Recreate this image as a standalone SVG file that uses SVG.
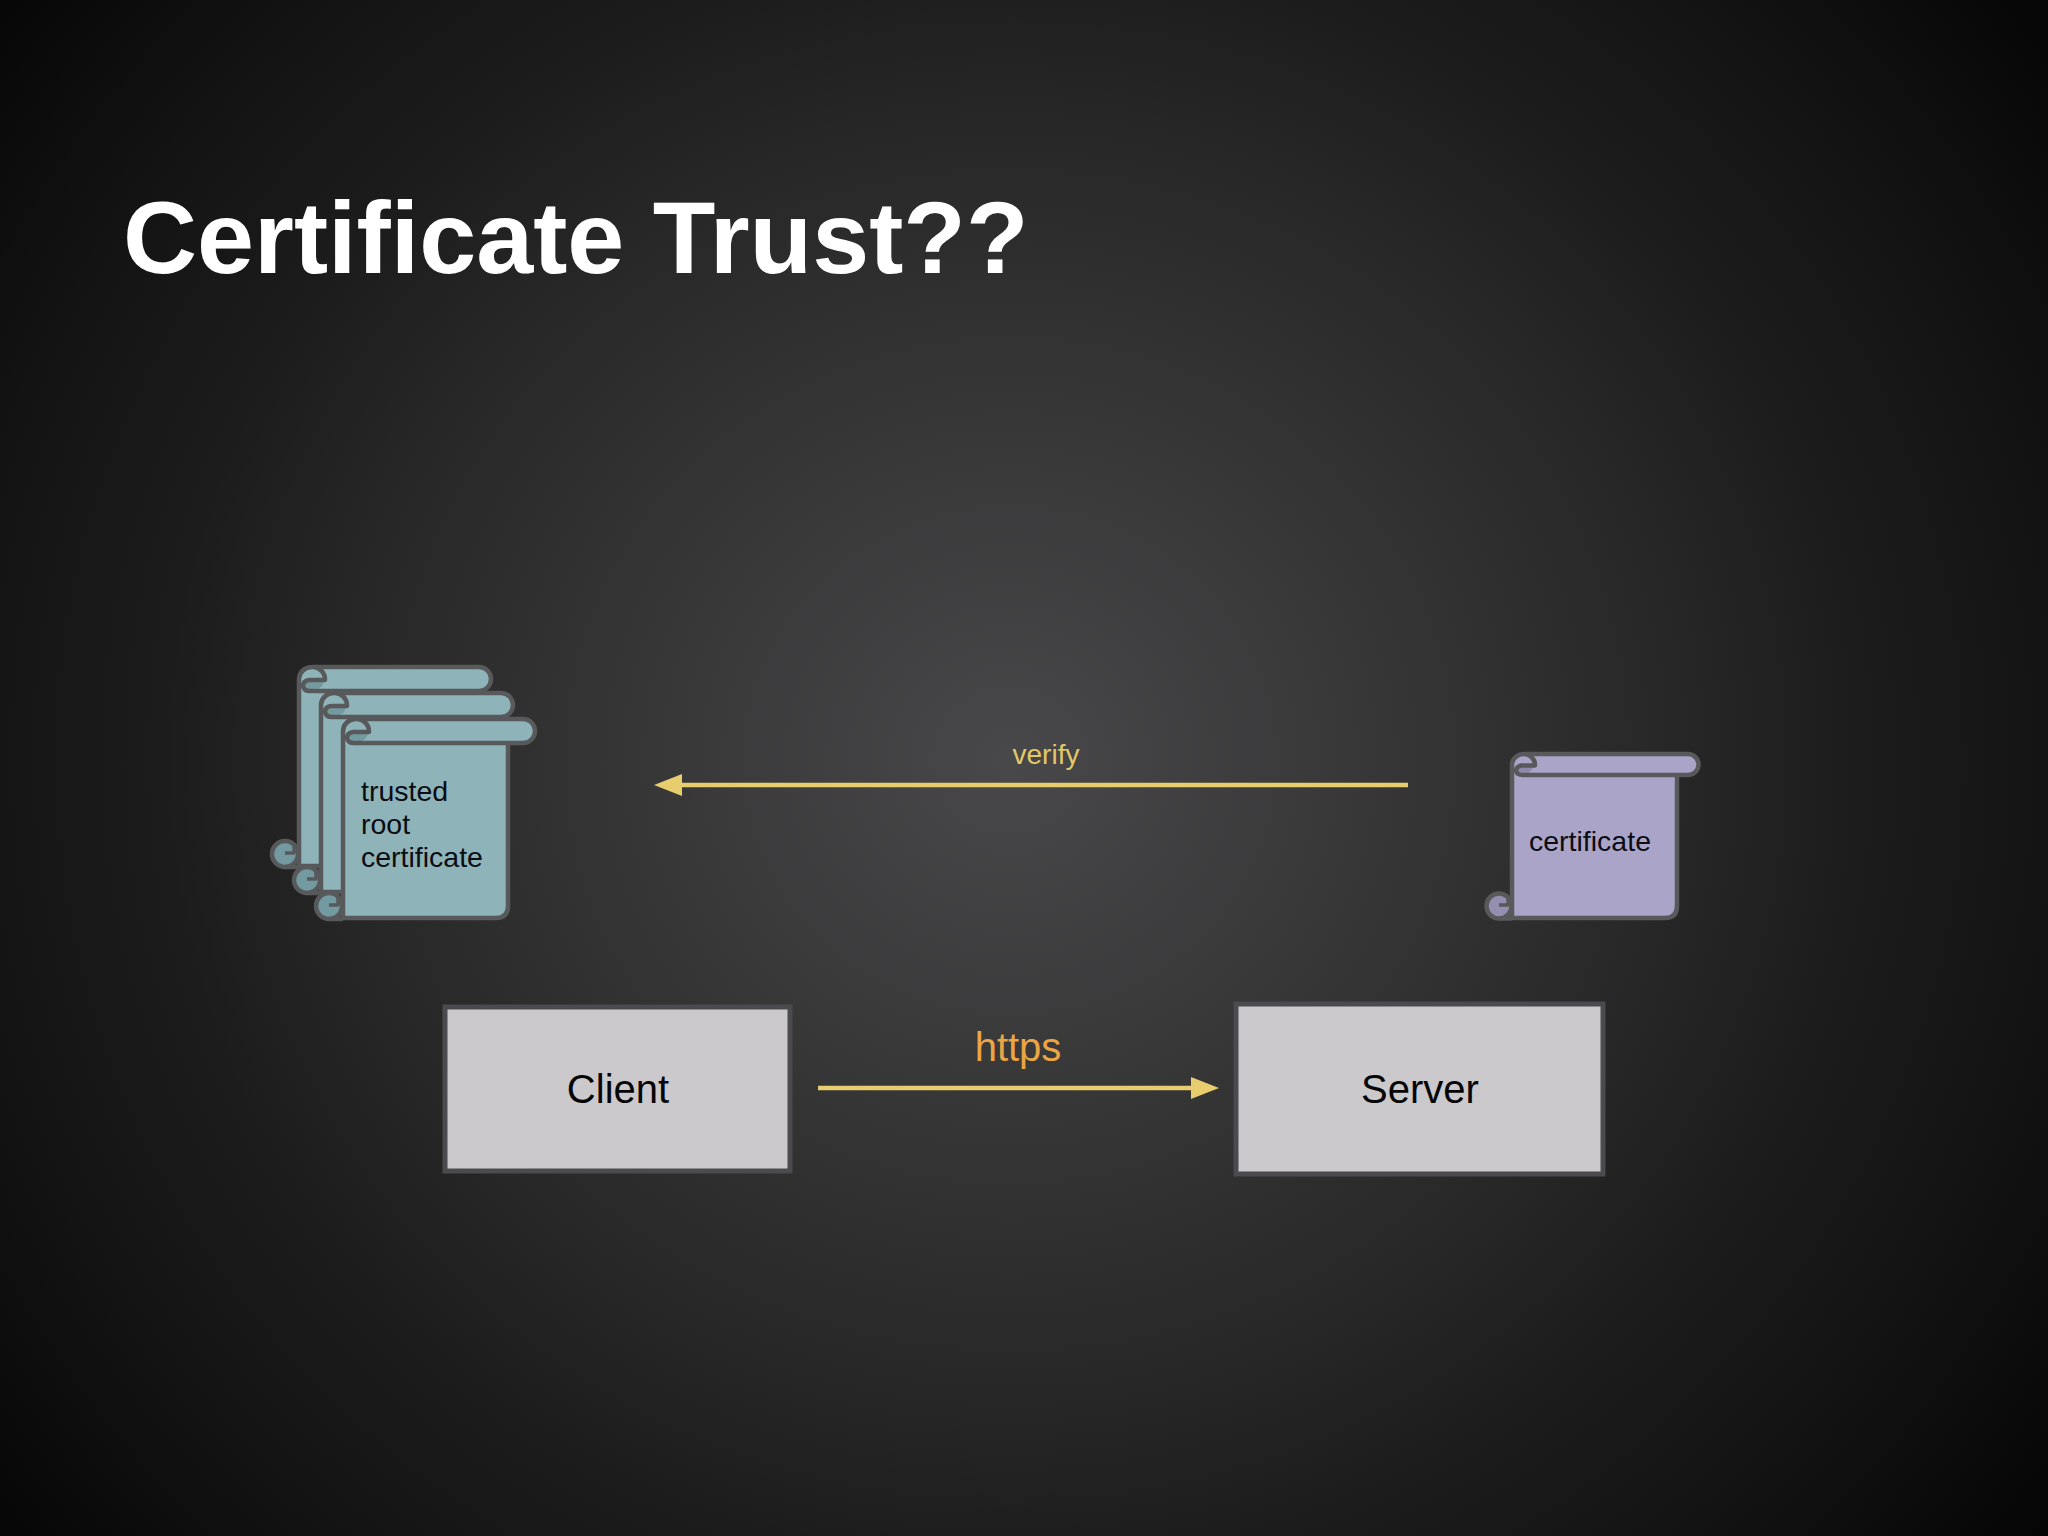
<svg xmlns="http://www.w3.org/2000/svg" xmlns:xlink="http://www.w3.org/1999/xlink" width="2048" height="1536" viewBox="0 0 2048 1536">
<defs>
<radialGradient id="bg" gradientUnits="userSpaceOnUse" cx="0" cy="0" r="1" gradientTransform="translate(1010 760) scale(1365 1300)">
<stop offset="0" stop-color="#484749"/>
<stop offset="0.23" stop-color="#39393a"/>
<stop offset="0.5" stop-color="#262626"/>
<stop offset="0.62" stop-color="#1c1c1c"/>
<stop offset="0.77" stop-color="#131313"/>
<stop offset="0.96" stop-color="#050505"/>
</radialGradient>
<marker id="ah" markerUnits="userSpaceOnUse" markerWidth="28" markerHeight="22" refX="2" refY="11" orient="auto">
<path d="M0 0L28 11L0 22Z" fill="#e8cd6e"/>
</marker>
<g id="scrollTrust">
<path class="sheet" d="M0 12A13 12 0 0 1 13 0H180A12 12 0 0 1 180 24H165V187Q165 199 153 199H0Z"/>
<circle cx="-14" cy="187" r="13" fill="#729aa0" class="line fillOn"/>
<path d="M5 20Q6 15 11 15H25Q22 23 12 24Q7 24 5 20Z" fill="#729aa0"/>
<path class="line" d="M0 12V199H153Q165 199 165 187V24M-14 200H0"/>
<path class="line thin" d="M-5 176V186H-14"/>
<path class="line" d="M0 12A13 12 0 0 1 13 0H180A12 12 0 0 1 180 24H11Q5 24 4 19Q4 14 10 13H26A12.500 12.500 0 0 0 13 0"/>
</g>
</defs>
<style>
text{font-family:"Liberation Sans",Arial,sans-serif}
.sheet{stroke:none}
.line{fill:none;stroke:#57595b;stroke-width:4.5;stroke-linejoin:round}
circle.fillOn{fill:#729aa0}
#node-certificate circle.fillOn{fill:#948eb0}
.thin{stroke-width:3.500}
.box{fill:#cbc9cc;stroke:#4b4a4e;stroke-width:5}
.lbl{font-size:28.500px;fill:#0b0d12}
.big{font-size:40px;fill:#050505;text-anchor:middle}
.conn{stroke:#e8cd6e;stroke-width:4.500;fill:none}
</style>
<rect width="2048" height="1536" fill="url(#bg)"/>
<text id="title" x="123" y="273" font-size="102.500" font-weight="700" fill="#ffffff">Certificate Trust??</text>
<g id="node-root-certs" fill="#8eb3b8">
<use xlink:href="#scrollTrust" href="#scrollTrust" x="299" y="667"/>
<use xlink:href="#scrollTrust" href="#scrollTrust" x="321" y="693"/>
<use xlink:href="#scrollTrust" href="#scrollTrust" x="343" y="719"/>
<text class="lbl" x="361" y="801">trusted</text>
<text class="lbl" x="361" y="834">root</text>
<text class="lbl" x="361" y="867">certificate</text>
</g>
<g id="node-certificate" fill="#aaa4c8">
<path class="sheet" d="M1512 764A12 10.500 0 0 1 1524 754H1688A10.500 10.500 0 0 1 1688 775H1677V906Q1677 918 1665 918H1512Z"/>
<circle class="line fillOn" cx="1499" cy="906" r="12.500"/>
<path d="M1516 771Q1517 767 1522 767H1533Q1531 773 1524 775Q1518 775 1516 771Z" fill="#8f89ad"/>
<path class="line" d="M1512 764V918H1665Q1677 918 1677 906V775M1499 918.500H1512"/>
<path class="line thin" d="M1508 896V905H1499"/>
<path class="line" d="M1512 764A12 10.500 0 0 1 1524 754H1688A10.500 10.500 0 0 1 1688 775H1523Q1517 775 1516 771Q1516 767 1521 765.500H1535A11 11 0 0 0 1524 754"/>
<text class="lbl" x="1590" y="851" text-anchor="middle">certificate</text>
</g>
<g id="node-client">
<rect class="box" x="445" y="1007" width="345" height="164"/>
<text class="big" x="618" y="1103">Client</text>
</g>
<g id="node-server">
<rect class="box" x="1236" y="1004" width="367" height="170"/>
<text class="big" x="1420" y="1103">Server</text>
</g>
<g id="connectors">
<line class="conn" x1="1408" y1="785" x2="680" y2="785" marker-end="url(#ah)"/>
<line class="conn" x1="818" y1="1088" x2="1193" y2="1088" marker-end="url(#ah)"/>
</g>
<text id="label-verify" x="1046" y="764" font-size="28" fill="#e2c866" text-anchor="middle">verify</text>
<text id="label-https" x="1018" y="1061" font-size="40" fill="#eba543" text-anchor="middle">https</text>
</svg>
